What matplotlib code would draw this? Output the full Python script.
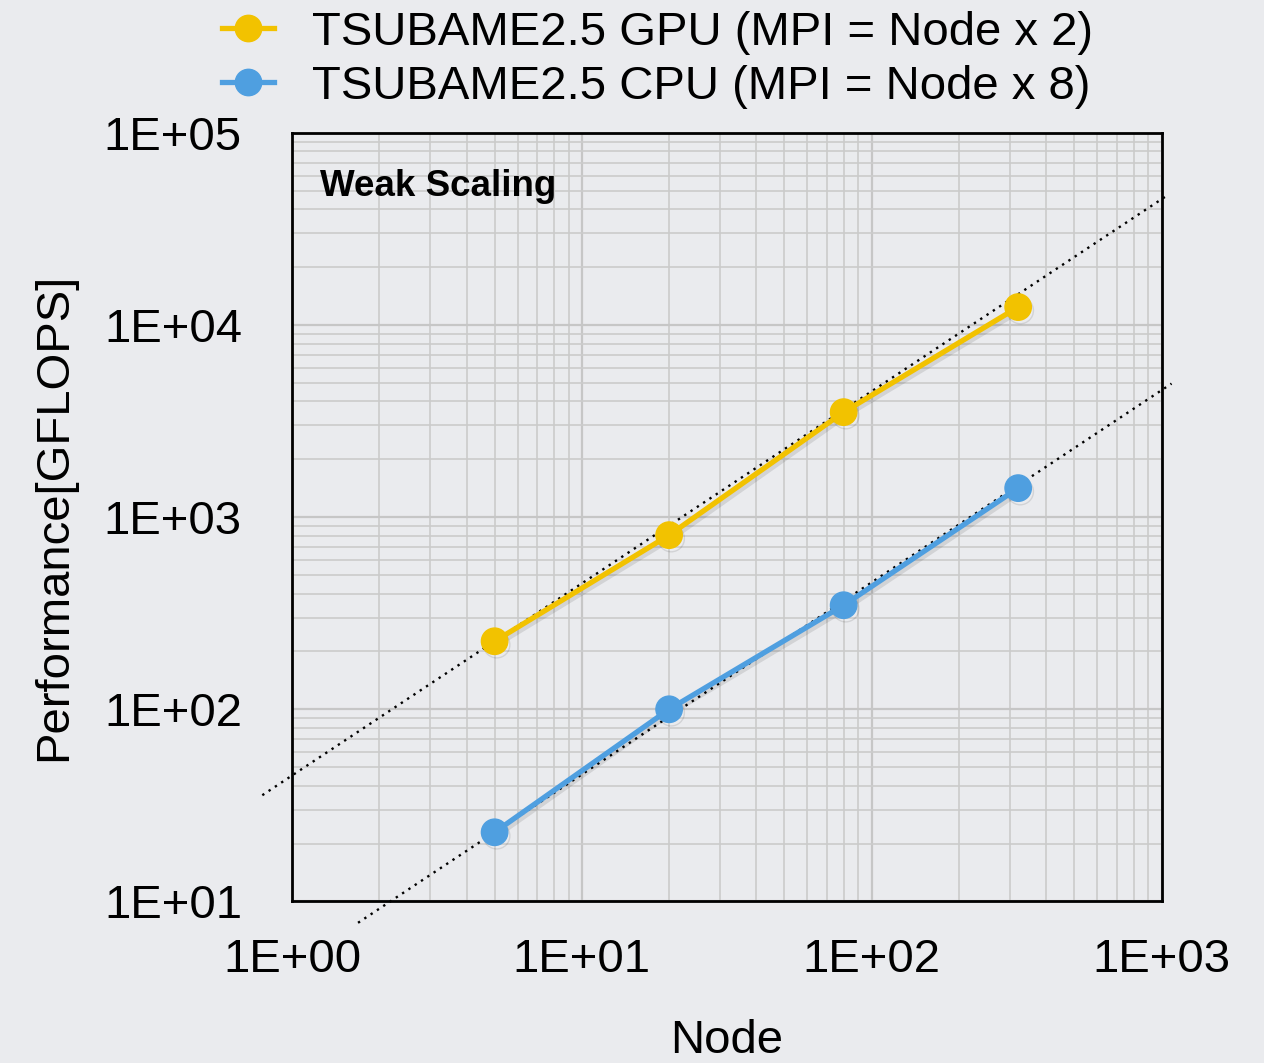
import numpy as np
import matplotlib
matplotlib.use("Agg")
import matplotlib.pyplot as plt
import matplotlib.patheffects as pe
from matplotlib.ticker import LogLocator, FixedLocator, NullFormatter

plt.rcParams['font.family'] = ['Liberation Sans', 'DejaVu Sans']

# data
nodes = [5, 20, 80, 320]
gpu_perf = [226, 806, 3520, 12400]
cpu_perf = [22.9, 100, 348, 1416]
gpu_label = "TSUBAME2.5 GPU (MPI = Node x 2)"
cpu_label = "TSUBAME2.5 CPU (MPI = Node x 8)"

# ideal (linear) scaling reference ranges, in nodes
gpu_ideal_range = [0.79, 1040]
cpu_ideal_range = [1.69, 1082]

x_ticks = [1, 10, 100, 1000]
x_ticklabels = ["1E+00", "1E+01", "1E+02", "1E+03"]
y_ticks = [10, 100, 1000, 10000, 100000]
y_ticklabels = ["1E+01", "1E+02", "1E+03", "1E+04", "1E+05"]

bg = "#eaebee"
gpu_color = "#f2c200"
cpu_color = "#4f9fe0"

fig = plt.figure(figsize=(12.64, 10.63), dpi=100, facecolor=bg)
ax = fig.add_axes([0.231, 0.152, 0.688, 0.723], facecolor=bg)
ax.set_xscale("log")
ax.set_yscale("log")
ax.set_xlim(1, 1000)
ax.set_ylim(10, 100000)

# grid
ax.xaxis.set_minor_locator(LogLocator(base=10, subs=np.arange(2, 10)))
ax.yaxis.set_minor_locator(LogLocator(base=10, subs=np.arange(2, 10)))
ax.xaxis.set_minor_formatter(NullFormatter())
ax.yaxis.set_minor_formatter(NullFormatter())
ax.grid(which="major", color="#c6c6c6", linewidth=1.6, zorder=0)
ax.grid(which="minor", color="#cbcbcb", linewidth=1.2, zorder=0)
ax.set_axisbelow(True)

ax.xaxis.set_major_locator(FixedLocator(x_ticks))
ax.yaxis.set_major_locator(FixedLocator(y_ticks))
ax.set_xticklabels(x_ticklabels)
ax.set_yticklabels(y_ticklabels)
ax.tick_params(which="both", length=0)
ax.tick_params(axis="x", labelsize=34, pad=26)
ax.tick_params(axis="y", labelsize=34, pad=36)

for s in ax.spines.values():
    s.set_linewidth(2)
    s.set_color("black")

# ideal scaling lines through the first point
gx = np.array(gpu_ideal_range)
cx = np.array(cpu_ideal_range)
ax.plot(gx, gpu_perf[0] * gx / nodes[0], linestyle=(0, (1, 2.2)), color="black",
        linewidth=1.7, clip_on=False, zorder=2)
ax.plot(cx, cpu_perf[0] * cx / nodes[0], linestyle=(0, (1, 2.2)), color="black",
        linewidth=1.7, clip_on=False, zorder=2)

shadow = [pe.SimpleLineShadow(offset=(1.5, -2.5), shadow_color="black", alpha=0.1), pe.Normal()]
ax.plot(nodes, gpu_perf, color=gpu_color, marker="o", markersize=19, linewidth=3.8,
        zorder=3, path_effects=shadow)
ax.plot(nodes, cpu_perf, color=cpu_color, marker="o", markersize=19, linewidth=3.8,
        zorder=3, path_effects=shadow)

# legend handles without shadow
ax.plot([], [], color=gpu_color, marker="o", markersize=19, linewidth=3.8, label=gpu_label)
ax.plot([], [], color=cpu_color, marker="o", markersize=19, linewidth=3.8, label=cpu_label)

ax.text(0.032, 0.953, "Weak Scaling", transform=ax.transAxes, fontsize=26.5,
        fontweight="bold", va="top", ha="left")

ax.set_xlabel("Node", fontsize=34, labelpad=27)
ax.set_ylabel("Performance[GFLOPS]", fontsize=34, labelpad=20)

fig.legend(loc="upper center", bbox_to_anchor=(0.52, 1.03), frameon=False,
           fontsize=34, handlelength=1.1, handletextpad=0.8, labelspacing=0.22)

fig.savefig("out.png", dpi=100, facecolor=bg)
